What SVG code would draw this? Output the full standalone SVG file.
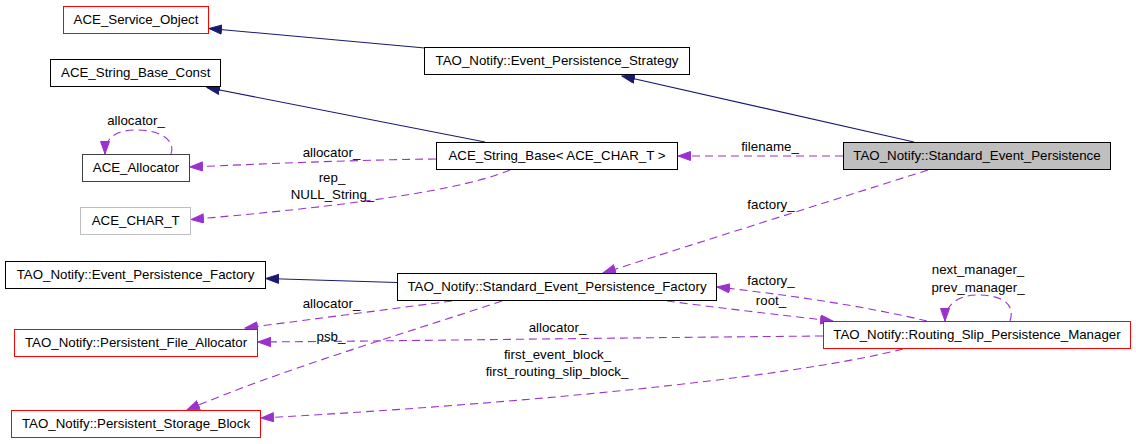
<svg xmlns="http://www.w3.org/2000/svg" width="1136" height="444" viewBox="0 0 1136 444">
<defs>
<style>
.box{fill:#ffffff;stroke:#000000;stroke-width:1}
.red{stroke:#ff0000}
.dark{stroke:#404040}
.grey{stroke:#bfbfbf}
.sel{fill:#bfbfbf}
text{font-family:"Liberation Sans",Arial,Helvetica,sans-serif;font-size:13.3px;fill:#000000}
.nt{text-anchor:middle}
.lb{text-anchor:middle}
.inh{fill:none;stroke:#191970;stroke-width:1.1}
.use{fill:none;stroke:#9a32cd;stroke-width:1.1;stroke-dasharray:8,5}
</style>
<marker id="an" markerWidth="14" markerHeight="11" refX="13" refY="5" orient="auto" markerUnits="userSpaceOnUse">
<path d="M0.5,0.5 L13,5 L0.5,9.5 z" fill="#191970" stroke="#191970" stroke-width="1"/>
</marker>
<marker id="ap" markerWidth="14" markerHeight="11" refX="13" refY="5" orient="auto" markerUnits="userSpaceOnUse">
<path d="M0.5,0.5 L13,5 L0.5,9.5 z" fill="#9a32cd" stroke="#9a32cd" stroke-width="1"/>
</marker>
</defs>
<rect width="1136" height="444" fill="#ffffff"/>

<g id="edges">
<path class="inh" d="M425,48 L209,28.5" marker-end="url(#an)"/>
<path class="inh" d="M914,142 L622,76" marker-end="url(#an)"/>
<path class="inh" d="M485,142 L207,87.5" marker-end="url(#an)"/>
<path class="inh" d="M397,282.5 L266,278.5" marker-end="url(#an)"/>

<path class="use" d="M436,159 C 350,160 260,164 190,167" marker-end="url(#ap)"/>
<path class="use" d="M510,170 C 450,195 300,210 191,219.5" marker-end="url(#ap)"/>
<path class="use" d="M843,156 L678,156" marker-end="url(#ap)"/>
<path class="use" d="M928,170 L603,273" marker-end="url(#ap)"/>
<path class="use" d="M452,301 L245,328" marker-end="url(#ap)"/>
<path class="use" d="M502,301 C 400,335 280,370 187,410" marker-end="url(#ap)"/>
<path class="use" d="M667,301 C 720,308 780,315 833,321" marker-end="url(#ap)"/>
<path class="use" d="M927,321 C 860,305 780,294 717,287" marker-end="url(#ap)"/>
<path class="use" d="M823,336 C 600,338 400,341 258,342" marker-end="url(#ap)"/>
<path class="use" d="M903,349 C 780,380 500,405 261,418" marker-end="url(#ap)"/>
<path class="use" d="M1010,321 C 1016,303 1000,295 978,295 C 958,295 945,305 945,321" marker-end="url(#ap)"/>
<path class="use" d="M171,154 C 176,140 160,130 137,130 C 115,130 105,138 105,154" marker-end="url(#ap)"/>

<text class="lb" x="136" y="125">allocator_</text>
<text class="lb" x="331.5" y="156.5">allocator_</text>
<text class="lb" x="332" y="181.5">rep_</text>
<text class="lb" x="332.5" y="198.5">NULL_String_</text>
<text class="lb" x="770" y="151">filename_</text>
<text class="lb" x="771" y="209">factory_</text>
<text class="lb" x="771" y="284.5">factory_</text>
<text class="lb" x="771" y="305">root_</text>
<text class="lb" x="978" y="274">next_manager_</text>
<text class="lb" x="978" y="292">prev_manager_</text>
<text class="lb" x="331.5" y="307.5">allocator_</text>
<text class="lb" x="331" y="340.5">psb_</text>
<text class="lb" x="557.5" y="332">allocator_</text>
<text class="lb" x="557.5" y="359">first_event_block_</text>
<text class="lb" x="557" y="376">first_routing_slip_block_</text>
</g>

<g id="n_ace_service_object">
<rect class="box red" x="63.5" y="6.5" width="145" height="27"/>
<text class="nt" x="136" y="23.5">ACE_Service_Object</text>
</g>
<g id="n_ace_string_base_const">
<rect class="box" x="50.5" y="59.5" width="170" height="27"/>
<text class="nt" x="135.7" y="77">ACE_String_Base_Const</text>
</g>
<g id="n_ace_allocator">
<rect class="box dark" x="82.5" y="154.5" width="107" height="27"/>
<text class="nt" x="136" y="171.5">ACE_Allocator</text>
</g>
<g id="n_ace_char_t">
<rect class="box grey" x="80.5" y="207.5" width="110" height="27"/>
<text class="nt" x="135.7" y="225">ACE_CHAR_T</text>
</g>
<g id="n_event_persistence_strategy">
<rect class="box" x="424.5" y="47.5" width="265" height="27"/>
<text class="nt" x="557" y="65">TAO_Notify::Event_Persistence_Strategy</text>
</g>
<g id="n_ace_string_base">
<rect class="box" x="436.5" y="142.5" width="241" height="27"/>
<text class="nt" x="557" y="159.5">ACE_String_Base&lt; ACE_CHAR_T &gt;</text>
</g>
<g id="n_standard_event_persistence">
<rect class="box sel" x="843.5" y="142.5" width="267" height="27"/>
<text class="nt" x="977" y="159.5">TAO_Notify::Standard_Event_Persistence</text>
</g>
<g id="n_event_persistence_factory">
<rect class="box" x="5.5" y="261.5" width="260" height="27"/>
<text class="nt" x="135.5" y="278.5">TAO_Notify::Event_Persistence_Factory</text>
</g>
<g id="n_standard_event_persistence_factory">
<rect class="box" x="397.5" y="273.5" width="319" height="27"/>
<text class="nt" x="557" y="290.5">TAO_Notify::Standard_Event_Persistence_Factory</text>
</g>
<g id="n_persistent_file_allocator">
<rect class="box red" x="14.5" y="329.5" width="243" height="27"/>
<text class="nt" x="136" y="346.5">TAO_Notify::Persistent_File_Allocator</text>
</g>
<g id="n_persistent_storage_block">
<rect class="box red" x="11.5" y="410.5" width="249" height="27"/>
<text class="nt" x="136" y="427.5">TAO_Notify::Persistent_Storage_Block</text>
</g>
<g id="n_routing_slip_persistence_manager">
<rect class="box red" x="823.5" y="321.5" width="307" height="27"/>
<text class="nt" x="977" y="338.5">TAO_Notify::Routing_Slip_Persistence_Manager</text>
</g>
</svg>
